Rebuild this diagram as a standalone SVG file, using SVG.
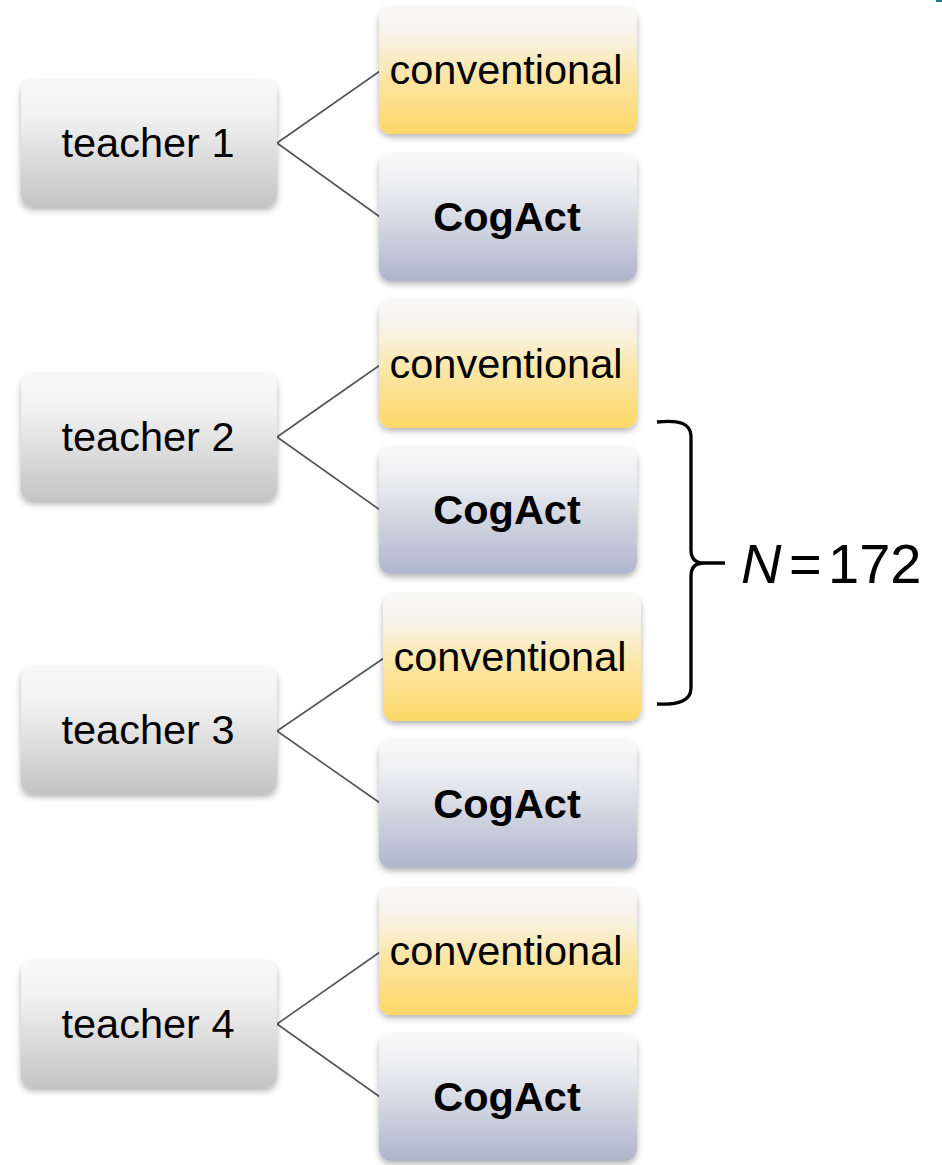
<svg xmlns="http://www.w3.org/2000/svg" width="942" height="1165" viewBox="0 0 942 1165">
<defs>
<linearGradient id="gT" x1="0" y1="0" x2="0" y2="1">
<stop offset="0" stop-color="#f8f8f8"/><stop offset="0.25" stop-color="#f3f3f3"/><stop offset="1" stop-color="#c4c4c4"/>
</linearGradient>
<linearGradient id="gC" x1="0" y1="0" x2="0" y2="1">
<stop offset="0" stop-color="#f8f8f8"/><stop offset="0.2" stop-color="#f7f4ec"/><stop offset="0.55" stop-color="#fbe6a6"/><stop offset="1" stop-color="#fdd766"/>
</linearGradient>
<linearGradient id="gA" x1="0" y1="0" x2="0" y2="1">
<stop offset="0" stop-color="#f8f8f8"/><stop offset="0.2" stop-color="#f1f1f3"/><stop offset="1" stop-color="#aeb6cc"/>
</linearGradient>
<filter id="sh" x="-10%" y="-10%" width="120%" height="130%">
<feDropShadow dx="0" dy="3" stdDeviation="3" flood-color="#000" flood-opacity="0.3"/>
</filter>
</defs>
<style>
.t{fill:url(#gT);filter:url(#sh)}
.c{fill:url(#gC);filter:url(#sh)}
.a{fill:url(#gA);filter:url(#sh)}
.lbl{font-family:"Liberation Sans",Arial,sans-serif;font-size:41.5px;fill:#000;text-anchor:middle}
.b{font-weight:bold}
.ln{stroke:#555;stroke-width:1.6;fill:none}
</style>
<rect x="936" y="0" width="6" height="2" fill="#17808f"/>
<g id="connectors">
<path class="ln" d="M277,143 L380,71 M277,143 L380,217"/>
<path class="ln" d="M277,437 L380,365 M277,437 L380,510"/>
<path class="ln" d="M277,731 L384,658 M277,731 L380,803"/>
<path class="ln" d="M277,1024 L380,952 M277,1024 L380,1097"/>
</g>
<g id="teacher1"><rect class="t" x="21" y="80" width="256" height="127" rx="12"/><text class="lbl" x="148" y="157">teacher 1</text></g>
<g id="conv1"><rect class="c" x="379" y="7" width="258" height="127" rx="12"/><text class="lbl" x="506" y="84">conventional</text></g>
<g id="cog1"><rect class="a" x="379" y="154" width="258" height="127" rx="12"/><text class="lbl b" x="507" y="231">CogAct</text></g>
<g id="teacher2"><rect class="t" x="21" y="374" width="256" height="127" rx="12"/><text class="lbl" x="148" y="451">teacher 2</text></g>
<g id="conv2"><rect class="c" x="379" y="301" width="258" height="127" rx="12"/><text class="lbl" x="506" y="378">conventional</text></g>
<g id="cog2"><rect class="a" x="379" y="447" width="258" height="127" rx="12"/><text class="lbl b" x="507" y="524">CogAct</text></g>
<g id="teacher3"><rect class="t" x="21" y="667" width="256" height="127" rx="12"/><text class="lbl" x="148" y="744">teacher 3</text></g>
<g id="conv3"><rect class="c" x="383" y="594" width="258" height="127" rx="12"/><text class="lbl" x="510" y="671">conventional</text></g>
<g id="cog3"><rect class="a" x="379" y="741" width="258" height="127" rx="12"/><text class="lbl b" x="507" y="818">CogAct</text></g>
<g id="teacher4"><rect class="t" x="21" y="961" width="256" height="127" rx="12"/><text class="lbl" x="148" y="1038">teacher 4</text></g>
<g id="conv4"><rect class="c" x="379" y="888" width="258" height="127" rx="12"/><text class="lbl" x="506" y="965">conventional</text></g>
<g id="cog4"><rect class="a" x="379" y="1034" width="258" height="127" rx="12"/><text class="lbl b" x="507" y="1111">CogAct</text></g>
<g id="brace">
<path d="M657,422 Q691,418 691,436 L691,550 Q691,563 704,563 L725,563 M704,563 Q691,563 691,576 L691,688 Q691,706 657,704" fill="none" stroke="#000" stroke-width="3.3"/>
<text x="741" y="583" font-family="&quot;Liberation Sans&quot;,Arial,sans-serif" font-size="56" fill="#000"><tspan font-style="italic">N</tspan><tspan x="789">=</tspan><tspan x="828">172</tspan></text>
</g>
</svg>
